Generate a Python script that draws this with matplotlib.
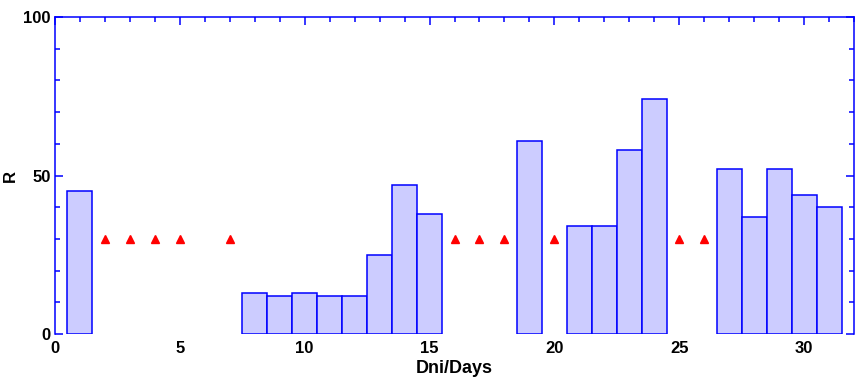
import matplotlib.pyplot as plt
from matplotlib.ticker import MultipleLocator

plt.rcParams['font.family'] = ['Liberation Sans', 'DejaVu Sans']

days = [1, 8, 9, 10, 11, 12, 13, 14, 15, 19, 21, 22, 23, 24, 27, 28, 29, 30, 31]
r_values = [45, 13, 12, 13, 12, 12, 25, 47, 38, 61, 34, 34, 58, 74, 52, 37, 52, 44, 40]
missing_days = [2, 3, 4, 5, 7, 16, 17, 18, 20, 25, 26]
missing_level = [30] * len(missing_days)
xticks = [0, 5, 10, 15, 20, 25, 30]
yticks = [0, 50, 100]

blue = '#0000ff'
fig = plt.figure(figsize=(8.55, 3.79), dpi=100)
ax = fig.add_axes([55 / 855, 45 / 379, 799 / 855, 317 / 379])

ax.bar(days, r_values, width=1, color='#ccccff', edgecolor=blue, linewidth=1.1)
ax.plot(missing_days, missing_level, linestyle='none', marker='^',
        color='#ff0000', markersize=6, clip_on=False)

ax.set_xlim(0, 32)
ax.set_ylim(0, 100)
ax.set_xticks(xticks)
ax.set_yticks(yticks)
ax.xaxis.set_minor_locator(MultipleLocator(1))
ax.yaxis.set_minor_locator(MultipleLocator(10))

for side in ['left', 'right', 'top']:
    ax.spines[side].set_color(blue)
    ax.spines[side].set_linewidth(1.1)
ax.spines['bottom'].set_visible(False)

ax.tick_params(which='both', direction='in', color=blue, width=1.1,
               top=True, bottom=False, left=True, right=True,
               labelbottom=True, labelleft=True)
ax.tick_params(which='major', length=6)
ax.tick_params(which='minor', length=3.3)
ax.tick_params(axis='x', pad=5)
ax.tick_params(axis='y', pad=3)

for lab in ax.get_xticklabels() + ax.get_yticklabels():
    lab.set_fontsize(12)
    lab.set_fontweight('bold')

ax.set_xlabel('Dni/Days', fontsize=13, fontweight='bold', labelpad=3)
ax.set_ylabel('R', fontsize=12, fontweight='bold', va='center')
ax.yaxis.set_label_coords(-45 / 799, 0.5)

fig.savefig('out.png', dpi=100)
